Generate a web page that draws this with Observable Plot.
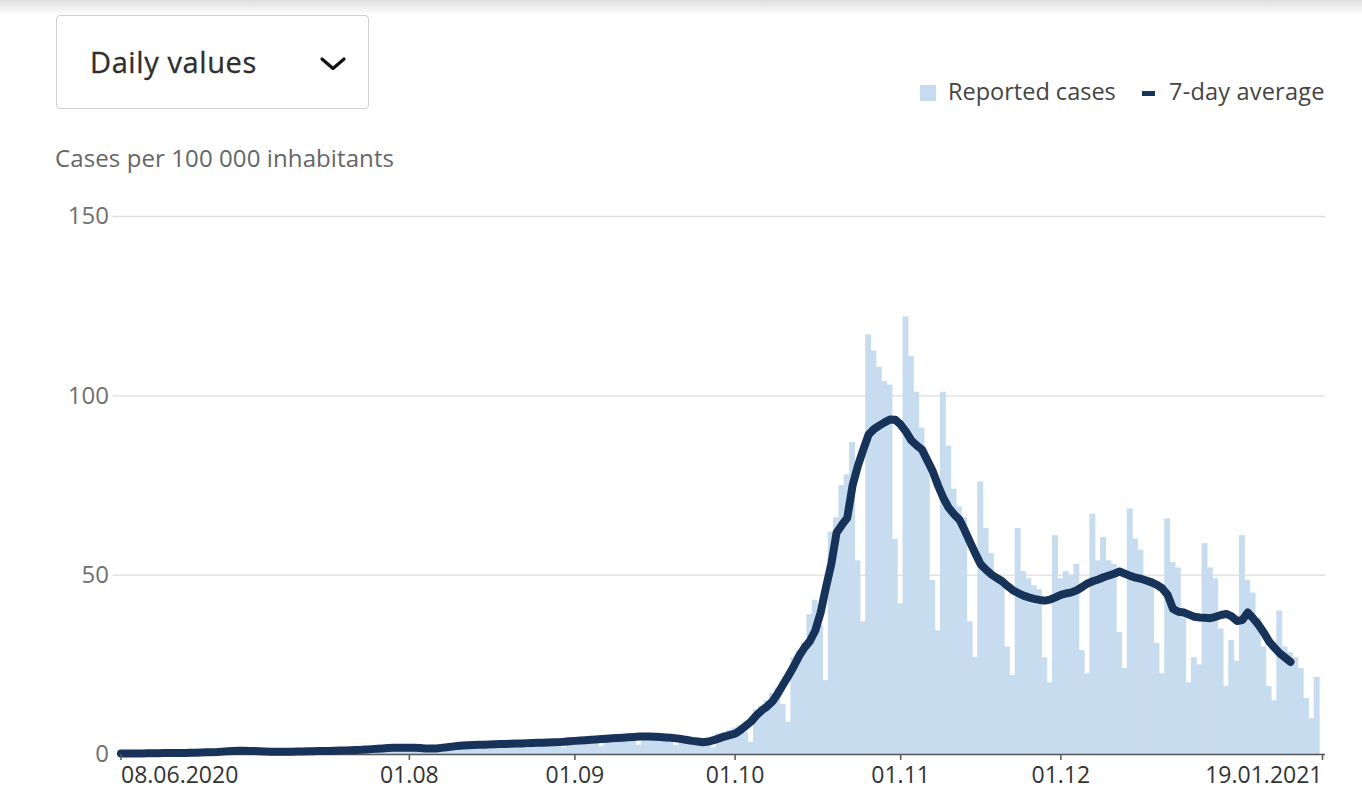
<!DOCTYPE html>
<html><head><meta charset="utf-8">
<script src="https://cdn.jsdelivr.net/npm/d3@7"></script>
<script src="https://cdn.jsdelivr.net/npm/@observablehq/plot@0.6"></script>
<style>
body{margin:0;background:#fff;font-family:"Open Sans",sans-serif;width:1362px;height:791px;overflow:hidden;position:relative}
.shade{position:absolute;left:0;top:0;width:1362px;height:15px;background:linear-gradient(#dedede,#ffffff)}
.dropdown{position:absolute;left:56px;top:15px;width:313px;height:94px;border:1px solid #cfcfcf;border-radius:4px;box-sizing:border-box}
.dropdown .lbl{position:absolute;left:33px;top:31px;font-size:29px;line-height:1;color:#2e2e2e;letter-spacing:0.6px;white-space:nowrap;-webkit-text-stroke:0.3px #2e2e2e}
.dropdown svg{position:absolute;left:262px;top:40px}
.legend{position:absolute;top:80px;left:920px;font-size:23.5px;line-height:1;color:#444;white-space:nowrap}
.legend .sq{position:absolute;left:0;top:5px;width:16px;height:16px;background:#c6dbef}
.legend .t1{position:absolute;left:28px;top:0}
.legend .dash{position:absolute;left:222px;top:11px;width:13px;height:5px;background:#17335a}
.legend .t2{position:absolute;left:249px;top:0;letter-spacing:0.2px}
.ylabel{position:absolute;left:55px;top:146px;font-size:24px;line-height:1;color:#666;white-space:nowrap;letter-spacing:0.1px}
#chart{position:absolute;left:0;top:190px}
</style>
</head><body>
<div class="shade"></div>
<div class="dropdown"><div class="lbl">Daily values</div>
<svg width="28" height="16" viewBox="0 0 28 16"><polyline points="3,3 14,12.5 25,3" fill="none" stroke="#111" stroke-width="3.2" stroke-linecap="round" stroke-linejoin="round"/></svg></div>
<div class="legend"><div class="sq"></div><div class="t1">Reported cases</div><div class="dash"></div><div class="t2">7-day average</div></div>
<div class="ylabel">Cases per 100 000 inhabitants</div>
<div id="chart"></div>
<script>
// first day of the series
const startDay = "2020-06-08";
// Reported cases per 100 000 inhabitants, one value per day from 08.06.2020
const barValues = [
0.4,0.3,0.4,0.3,0.3,0.2,0.1,
0.5,0.5,0.4,0.5,0.4,0.3,0.2,
0.6,0.7,0.7,0.8,0.8,0.5,0.4,
1.2,1.1,1.2,1.1,1.0,0.7,0.5,
1.0,0.9,0.9,0.9,0.9,0.6,0.4,
1.1,1.1,1.1,1.2,1.1,0.7,0.5,
1.5,1.5,1.4,1.5,1.6,1.0,0.7,
2.2,2.1,2.1,2.1,2.0,1.4,1.0,
2.0,1.9,2.0,2.1,2.2,1.5,1.1,
3.0,2.9,3.0,3.0,2.9,2.0,1.5,
3.4,3.3,3.4,3.3,3.3,2.3,1.7,
3.9,3.8,3.8,3.7,3.7,2.5,1.9,
4.6,4.5,4.6,4.5,4.4,3.0,2.2,
5.4,5.3,5.4,5.3,5.2,3.6,2.6,
5.5,5.5,5.4,5.3,5.1,3.5,2.5,
4.5,4.3,4.2,4.1,4.1,2.9,1.9,
5.8,6.2,6.8,7.4,8.0,6.2,3.4,
12.5,13.5,15,17,18.5,14,9,
27,29,31,39,43,36,20.6,
62,66,75,78,87,54,37,
117,112.5,108,104,103,60,42,
122,111,101,91,83,48.5,34.5,
101,86,74,69,66,37,27,
76,63,56,50,48,30,22,
63,51,49,47,46,27,20,
61,49,51,50,53,29,22.5,
67,54,60.5,54,53,34,24,
68.5,60,57,49,49,31,22.5,
65.7,53.5,52,38,20,27,25,
58.8,52,49,35,19,31.8,26,
61,48.5,45,38,30,19,15,
40,30,28.4,27,24,15.6,10,
21.5
];
// 7-day average, one value per day from 08.06.2020
const avgValues = [
0.3,0.3,0.3,0.3,0.3,0.35,0.35,
0.35,0.4,0.4,0.4,0.45,0.45,0.5,
0.5,0.55,0.6,0.65,0.7,0.8,0.9,
1.0,1.05,1.05,1.0,0.95,0.9,0.85,
0.8,0.8,0.8,0.8,0.8,0.85,0.85,
0.9,0.9,0.95,1.0,1.0,1.05,1.1,
1.15,1.2,1.25,1.3,1.4,1.5,1.6,
1.7,1.8,1.85,1.9,1.9,1.9,1.85,
1.8,1.7,1.65,1.7,1.85,2.0,2.2,
2.4,2.5,2.6,2.65,2.7,2.75,2.8,
2.85,2.9,2.95,3.0,3.05,3.1,3.15,
3.2,3.25,3.3,3.35,3.4,3.45,3.55,
3.7,3.8,3.9,4.0,4.1,4.2,4.3,
4.4,4.5,4.6,4.7,4.8,4.9,5.0,
5.0,5.0,4.95,4.85,4.75,4.65,4.5,
4.3,4.05,3.8,3.6,3.4,3.6,4.0,
4.5,5.0,5.4,5.8,6.8,8.0,9.2,
10.9,12.3,13.4,14.8,17.0,19.5,22.0,
24.6,27.5,29.8,31.6,34.5,39.5,46.5,
53,61.8,64.0,66.0,75,80.5,85,
89.2,90.7,91.7,92.6,93.4,93.3,92.0,
90.0,87.6,86.2,85.0,82,79,75,
71.5,68.8,67,65.5,62.5,59.2,56,
53,51.5,50.2,49.2,48.3,47,45.8,
45.0,44.3,43.8,43.4,43.1,42.9,43.2,
43.8,44.5,44.9,45.2,45.8,46.7,47.7,
48.3,48.8,49.4,49.9,50.4,51.0,50.4,
49.8,49.3,49.0,48.5,48.0,47.3,46.3,
44.5,40.6,39.8,39.6,39.0,38.4,38.2,
38.1,38.0,38.4,38.9,39.2,38.5,37.2,
37.5,39.6,38.0,36.2,34.0,31.5,29.8,
28.2,27.0,25.8
];
// x axis ticks and labels
const tickDays = ["2020-06-08","2020-08-01","2020-09-01","2020-10-01","2020-11-01","2020-12-01","2021-01-19"];
const tickLabels = ["08.06.2020","01.08","01.09","01.10","01.11","01.12","19.01.2021"];
// y axis ticks
const yTicks = [0, 50, 100, 150];
const yDomain = [0, 150];

const start = new Date(startDay + "T00:00:00Z");
const bars = barValues.map((v, i) => ({date: d3.utcDay.offset(start, i), value: v}));
const avg = avgValues.map((v, i) => ({date: d3.utcDay.offset(start, i), value: v}));
const tickDates = tickDays.map(s => new Date(s + "T00:00:00Z"));
const fmt = d => tickLabels[tickDates.findIndex(t => +t === +d)];

const axisStyle = {tickSize: 6, tickPadding: 6, fontSize: 23, fill: "#333", stroke: "#555", strokeWidth: 1.5};

const chart = Plot.plot({
  width: 1362,
  height: 600,
  marginLeft: 120.5,
  marginRight: 40,
  marginTop: 26,
  marginBottom: 36,
  style: {fontFamily: "'Open Sans', sans-serif", background: "transparent", overflow: "visible"},
  x: {type: "utc", domain: [start, tickDates[tickDates.length - 1]]},
  y: {domain: yDomain},
  marks: [
    Plot.ruleY(yTicks.filter(t => t > 0), {stroke: "#dddddd", strokeWidth: 1.3, insetLeft: -8, insetRight: -3}),
    Plot.rectY(bars, {x1: d => d3.utcHour.offset(d.date, -12), x2: d => d3.utcHour.offset(d.date, 12), y: "value", fill: "#c8dcf0", insetLeft: -0.3, insetRight: -0.3}),
    Plot.ruleY([0], {stroke: "#555", strokeWidth: 1.5, insetLeft: -3, insetRight: -3}),
    Plot.line(avg, {x: "date", y: "value", stroke: "#17335a", strokeWidth: 8, strokeLinecap: "round", strokeLinejoin: "round"}),
    Plot.axisY({ticks: yTicks, tickSize: 0, tickPadding: 12, fontSize: 24, fill: "#707070", label: null}),
    Plot.axisX({ticks: tickDates.slice(0, 1), tickFormat: fmt, textAnchor: "start", label: null, ...axisStyle}),
    Plot.axisX({ticks: tickDates.slice(1, -1), tickFormat: fmt, label: null, ...axisStyle}),
    Plot.axisX({ticks: tickDates.slice(-1), tickFormat: fmt, textAnchor: "end", label: null, ...axisStyle})
  ]
});
document.getElementById("chart").appendChild(chart);
</script>
</body></html>
